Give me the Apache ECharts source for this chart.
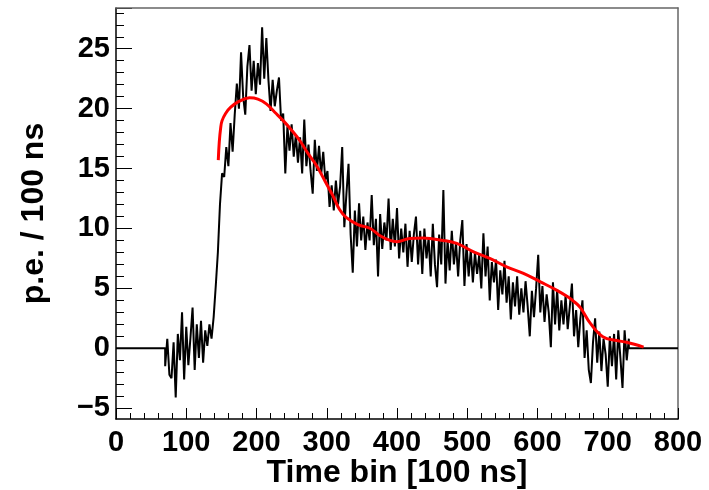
<!DOCTYPE html>
<html>
<head>
<meta charset="utf-8">
<script src="https://cdn.jsdelivr.net/npm/echarts@6/dist/echarts.min.js"></script>
<style>
html,body{margin:0;padding:0;background:#fff;}
#chart{width:709px;height:490px;}
</style>
</head>
<body>
<div id="chart"></div>
<script>
// ---- data ----
const xRange = [0, 800];
const yRange = [-5.9, 28.4];
const yMajorTicks = [-5, 0, 5, 10, 15, 20, 25];
const yMajorStep = 5;
const yMinorStep = 1;
const xMajorStep = 100;
const xTitle = 'Time bin [100 ns]';
const yTitle = 'p.e. / 100 ns';

// histogram: first bin edge, bin width, bin contents (zero outside)
const histStart = 70;
const histStep = 3;
const histValues = [
  -1.5, 0.8, -2.2, -2.5, 0.5, -4.1, 1.2, -1.0, 3.0, -2.6,
  1.8, -1.4, 0.9, 3.4, -1.8, 2.0, -0.8, 2.3, -1.2, 1.5,
  0.2, 2.0, 0.8, 2.6, 5.2, 8.0, 12.0, 14.6, 14.3, 16.8,
  15.2, 18.8, 16.4, 19.5, 22.1, 20.0, 24.7, 21.0, 19.5, 23.5,
  25.3, 21.5, 24.0, 21.2, 23.8, 22.0, 26.8, 22.5, 25.9, 22.4,
  19.8, 22.4, 20.2, 21.5, 22.6, 19.0, 19.6, 14.6, 18.5, 16.5,
  18.7, 16.0, 17.8, 15.5, 17.6, 14.6, 19.1, 15.2, 17.0, 14.8,
  12.9, 17.4, 14.8, 16.9, 14.5, 16.4, 14.0, 14.8, 11.8, 13.6,
  11.5, 14.0, 12.0, 13.5, 16.8, 10.1, 12.9, 15.4, 9.5, 6.3,
  11.5, 8.5, 12.1, 9.0, 11.0, 8.2, 10.5, 9.0, 12.8, 8.6,
  10.8, 6.0, 11.2, 8.3, 10.5, 9.0, 12.5, 8.2, 10.8, 8.5,
  11.7, 7.5, 10.0, 8.0, 10.4, 6.8, 9.8, 7.2, 9.5, 11.0,
  7.0, 9.8, 6.2, 10.0, 7.5, 9.2, 6.0, 10.4, 7.0, 5.1,
  9.5, 7.0, 13.2, 5.4, 9.0, 6.5, 9.8, 7.0, 8.8, 6.0,
  9.0, 10.7, 5.2, 8.7, 6.0, 8.2, 5.5, 8.0, 6.2, 7.8,
  5.0, 9.6, 6.0, 8.5, 4.0, 7.2, 5.5, 7.4, 3.2, 6.5,
  4.5, 7.3, 3.8, 6.0, 2.4, 5.5, 3.5, 6.0, 2.8, 5.0,
  3.0, 5.6, 3.5, 1.0, 4.8, 2.6, 5.0, 7.8, 3.0, 5.2,
  2.2, 4.5, 3.0, 0.1, 5.5, 2.0, 4.9, 1.5, 4.0, 2.0,
  4.4, 1.6, 3.5, 5.4, 1.0, 3.2, 0.1, 2.5, 4.0, -0.8,
  1.5, -1.8, -2.9, 0.5, 2.5, -1.2, 1.4, -1.9, 0.8, -0.5,
  -3.2, 1.0, -1.5, 1.2, -2.6, 1.5, -0.8, -3.3, 1.5, -1.0, 0.8
];

// fitted curve
const fitX = [145.6, 147, 149, 151, 156, 163, 175, 190, 202, 214, 226, 238, 250, 262, 274, 286, 298, 309, 318, 328, 345, 362, 376, 390, 400, 418, 437, 466, 485, 509, 532, 556, 580, 604, 627, 643, 652, 661, 675, 693, 713, 727, 751];
const fitY = [15.7, 17.2, 18.4, 19.0, 19.6, 20.1, 20.6, 20.9, 20.8, 20.4, 19.7, 19.0, 18.2, 17.3, 16.2, 15.2, 13.9, 12.7, 11.6, 10.9, 10.3, 10.0, 9.4, 9.0, 8.9, 9.17, 9.2, 9.0, 8.75, 8.05, 7.5, 6.8, 6.25, 5.55, 4.86, 4.3, 3.9, 3.4, 2.1, 0.97, 0.65, 0.5, 0.1];

// ---- build series data ----
const histData = [[xRange[0], 0]];
histData.push([histStart, 0]);
histValues.forEach((v, i) => histData.push([histStart + i * histStep, v]));
histData.push([histStart + (histValues.length - 1) * histStep, 0]);
histData.push([xRange[1], 0]);
const fitData = fitX.map((x, i) => [x, fitY[i]]);

// ---- layout ----
const W = 709, H = 490;
const G = {left: 116, right: 31, top: 8, bottom: 71};
const pxPerUnit = (H - G.top - G.bottom) / (yRange[1] - yRange[0]);
const tickMin = yMajorTicks[0];
const tickBottom = G.bottom + (tickMin - yRange[0]) * pxPerUnit;
const majorLen = 16, minorLen = 8;
// narrow strips along the left axis whose horizontal split lines act as the y ticks
const GMajor = {left: G.left, right: W - G.left - majorLen, top: G.top, bottom: tickBottom};
const GMinor = {left: G.left, right: W - G.left - minorLen, top: G.top, bottom: tickBottom};

const FONT = '"Liberation Sans", Arial, Helvetica, sans-serif';
const minus = v => String(v).replace('-', '\u2212');
const base = {outerBoundsMode: 'none', containLabel: false};
const stripX = (gi) => ({
  gridIndex: gi, type: 'value', min: xRange[0], max: xRange[1],
  axisLine: {show: false}, axisTick: {show: false}, axisLabel: {show: false}, splitLine: {show: false}
});
const stripY = (gi, step) => ({
  gridIndex: gi, type: 'value', min: tickMin, max: yRange[1], interval: step, position: 'left',
  axisLine: {show: false, onZero: false}, axisTick: {show: false}, axisLabel: {show: false},
  splitLine: {show: true, lineStyle: {color: '#000', width: 1, type: 'solid'}}
});

const chart = echarts.init(document.getElementById('chart'), null, {renderer: 'canvas'});
chart.setOption({
  animation: false,
  backgroundColor: '#ffffff',
  grid: [Object.assign({}, base, G), Object.assign({}, base, GMajor), Object.assign({}, base, GMinor)],
  xAxis: [{
    gridIndex: 0, type: 'value', min: xRange[0], max: xRange[1], interval: xMajorStep, position: 'bottom',
    name: xTitle, nameLocation: 'middle', nameGap: 38, nameMoveOverlap: false,
    nameTextStyle: {fontFamily: FONT, fontWeight: 'bold', fontSize: 32, color: '#000'},
    axisLine: {show: true, onZero: false, lineStyle: {color: '#000', width: 1.5}},
    axisTick: {show: true, inside: true, length: 11, lineStyle: {color: '#000', width: 1}},
    minorTick: {show: true, splitNumber: 5, length: 6, lineStyle: {color: '#000', width: 1}},
    axisLabel: {fontFamily: FONT, fontWeight: 'bold', fontSize: 29, color: '#000', margin: 9},
    splitLine: {show: false}, minorSplitLine: {show: false}
  }, {
    gridIndex: 0, type: 'value', min: xRange[0], max: xRange[1], position: 'top',
    axisLine: {show: true, onZero: false, lineStyle: {color: '#666', width: 1.5}},
    axisTick: {show: false}, axisLabel: {show: false}, splitLine: {show: false}
  }, stripX(1), stripX(2)],
  yAxis: [{
    gridIndex: 0, type: 'value', min: yRange[0], max: yRange[1], position: 'left',
    name: yTitle, nameLocation: 'middle', nameGap: 66, nameRotate: 90, nameMoveOverlap: false,
    nameTextStyle: {fontFamily: FONT, fontWeight: 'bold', fontSize: 32, color: '#000'},
    axisLine: {show: true, onZero: false, lineStyle: {color: '#000', width: 1.5}},
    axisTick: {show: false},
    axisLabel: {fontFamily: FONT, fontWeight: 'bold', fontSize: 29, color: '#000', margin: 6,
      customValues: yMajorTicks, formatter: minus},
    splitLine: {show: false}
  }, {
    gridIndex: 0, type: 'value', min: yRange[0], max: yRange[1], position: 'right',
    axisLine: {show: true, onZero: false, lineStyle: {color: '#666', width: 1.5}},
    axisTick: {show: false}, axisLabel: {show: false}, splitLine: {show: false}
  }, stripY(1, yMajorStep), stripY(2, yMinorStep)],
  series: [{
    type: 'line', xAxisIndex: 0, yAxisIndex: 0, data: histData, showSymbol: false, symbol: 'none',
    lineStyle: {color: '#000', width: 2}, z: 2
  }, {
    type: 'line', xAxisIndex: 0, yAxisIndex: 0, data: fitData, smooth: 0.4, showSymbol: false, symbol: 'none',
    lineStyle: {color: '#ff0000', width: 3}, z: 3
  }, {
    type: 'line', xAxisIndex: 2, yAxisIndex: 2, data: [], silent: true
  }, {
    type: 'line', xAxisIndex: 3, yAxisIndex: 3, data: [], silent: true
  }]
});
</script>
</body>
</html>
